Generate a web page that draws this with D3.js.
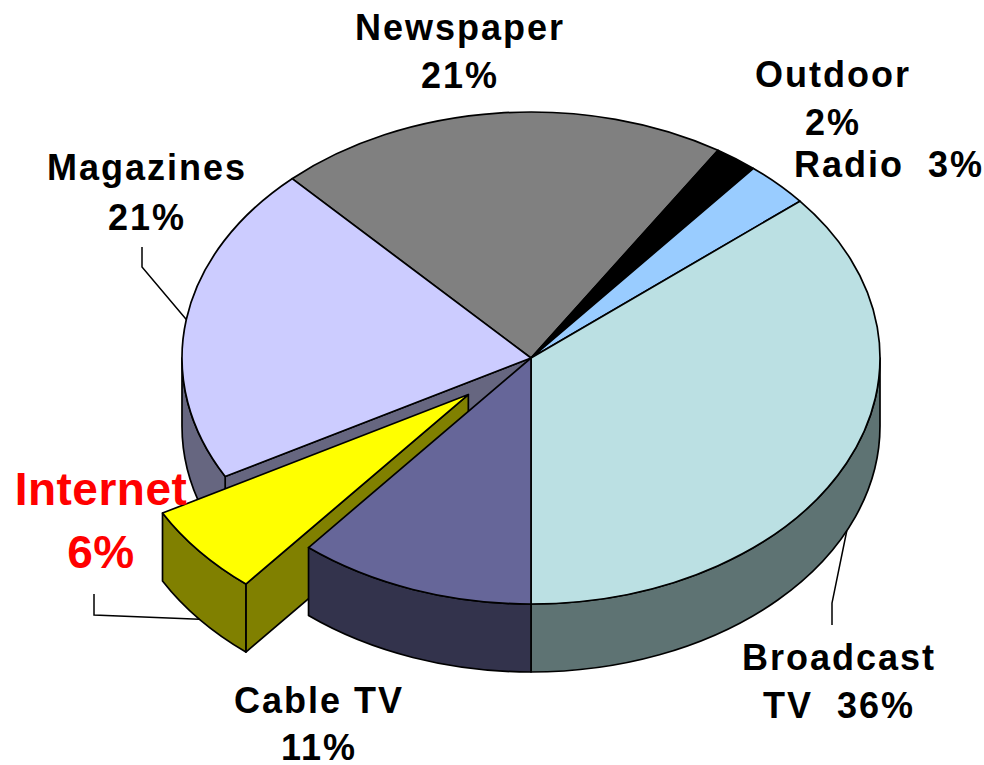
<!DOCTYPE html>
<meta charset="utf-8">
<head>
    <title>Advertising spend 3D pie</title>
    <script src="https://d3js.org/d3.v7.min.js"></script>
</head>

<style>
body { margin: 0; background: #ffffff; }
.label { font-family: "Liberation Sans", Arial, sans-serif; font-weight: bold; }
</style>

<body>

<svg></svg>

<script>

// slice data, clockwise from the first slice
let categories = ["Broadcast TV", "Cable TV", "Internet", "Magazines", "Newspaper", "Outdoor", "Radio"];
let values = [36, 11, 6, 21, 21, 2, 3];
let topColors = ["#BBE0E3", "#666699", "#FFFF00", "#CCCCFF", "#808080", "#000000", "#99CCFF"];
let sideColors = ["#5E7373", "#33334C", "#808000", "#666680", "#404040", "#000000", "#4D6680"];
let explode = [0, 0, 0.233, 0, 0, 0, 0];
// label text, "#" is replaced by the value
let labelLines = [["Broadcast", "TV  #%"], ["Cable TV", "#%"], ["Internet", "#%"], ["Magazines", "#%"],
                  ["Newspaper", "#%"], ["Outdoor", "#%"], ["Radio  #%"]];

let firstSliceAngle = 50.4;

// geometry
let width = 984, height = 765;
let cx = 531, cy = 358, rx = 349, ry = 246, depth = 68;

// label layout: centre x, first baseline, line height, size, colour
let labelPos = [[839, 670], [319, 713], [101, 505], [147, 180], [460, 40], [833, 87], [889, 177]];
let labelSize = [36, 36, 46, 36, 36, 36, 36];
let labelGap = [48, 47, 63, 50, 48, 48, 48];
let labelColor = ["#000", "#000", "#ff0000", "#000", "#000", "#000", "#000"];
// leader lines: two points near the label, then to the slice (z = 0 top, 1 bottom)
let leaders = [
  {i: 0, pts: [[832, 625], [832, 603]], z: 1},
  {i: 2, pts: [[94, 594], [94, 615]], z: 1},
  {i: 3, pts: [[142, 247], [142, 267]], z: 0}
];

let svg = d3.select("svg")
    .attr("width", width)
    .attr("height", height);

let a0 = firstSliceAngle * Math.PI / 180;
let pie = d3.pie().sort(null).value(d => d).startAngle(a0).endAngle(a0 + 2 * Math.PI);
let arcs = pie(values);

arcs.forEach((d, i) => {
  let m = (d.startAngle + d.endAngle) / 2;
  d.index = i;
  d.mid = m;
  d.dx = explode[i] * rx * Math.sin(m);
  d.dy = -explode[i] * ry * Math.cos(m);
});

function pt(d, t, z) {
  return [cx + d.dx + rx * Math.sin(t), cy + d.dy - ry * Math.cos(t) + z];
}
function centre(d, z) {
  return [cx + d.dx, cy + d.dy + z];
}

function topPath(d) {
  let p0 = pt(d, d.startAngle, 0), p1 = pt(d, d.endAngle, 0), c = centre(d, 0);
  let large = (d.endAngle - d.startAngle) > Math.PI ? 1 : 0;
  return "M" + c + "L" + p0 + "A" + rx + "," + ry + " 0 " + large + " 1 " + p1 + "Z";
}

function wallPaths(d) {
  // outer wall only on the front half of the ellipse
  let out = [];
  [[Math.PI / 2, 3 * Math.PI / 2], [5 * Math.PI / 2, 7 * Math.PI / 2]].forEach(r => {
    let a = Math.max(d.startAngle, r[0]), b = Math.min(d.endAngle, r[1]);
    if (b - a < 1e-6) return;
    let large = (b - a) > Math.PI ? 1 : 0;
    out.push("M" + pt(d, a, 0) + "A" + rx + "," + ry + " 0 " + large + " 1 " + pt(d, b, 0) +
             "L" + pt(d, b, depth) + "A" + rx + "," + ry + " 0 " + large + " 0 " + pt(d, a, depth) + "Z");
  });
  return out;
}

function facePath(d, t) {
  return "M" + centre(d, 0) + "L" + pt(d, t, 0) + "L" + pt(d, t, depth) + "L" + centre(d, depth) + "Z";
}

// radial faces show only where a slice next to them is pulled out
function openFaces(d, i) {
  let n = arcs.length, out = [];
  let prev = (i + n - 1) % n, next = (i + 1) % n;
  let open = explode[i] > 0;
  if ((open || explode[prev] > 0) && Math.sin(d.startAngle) < 0) out.push(facePath(d, d.startAngle));
  if ((open || explode[next] > 0) && Math.sin(d.endAngle) > 0) out.push(facePath(d, d.endAngle));
  return out;
}

// paint from back to front
let order = arcs.slice().sort((a, b) => Math.cos(b.mid) - Math.cos(a.mid));

let slices = svg.append("g")
    .attr("stroke", "#000")
    .attr("stroke-width", 1.7)
    .attr("stroke-linejoin", "round");

order.forEach(d => {
  let g = slices.append("g");
  openFaces(d, d.index).forEach(p => {
    g.append("path").attr("d", p).attr("fill", sideColors[d.index]);
  });
  wallPaths(d).forEach(p => {
    g.append("path").attr("d", p).attr("fill", sideColors[d.index]);
  });
  g.append("path").attr("d", topPath(d)).attr("fill", topColors[d.index]);
});

// leader lines
leaders.forEach(l => {
  let d = arcs[l.i];
  let end = pt(d, d.mid, l.z * depth);
  svg.append("path")
    .attr("d", d3.line()(l.pts.concat([end])))
    .attr("fill", "none")
    .attr("stroke", "#000")
    .attr("stroke-width", 1.5);
});

// labels
categories.forEach((c, i) => {
  let t = svg.append("text")
    .attr("class", "label")
    .attr("text-anchor", "middle")
    .attr("font-size", labelSize[i])
    .attr("letter-spacing", i == 2 ? 0.5 : 2)
    .attr("fill", labelColor[i]);
  labelLines[i].forEach((s, k) => {
    t.append("tspan")
      .attr("x", labelPos[i][0])
      .attr("y", labelPos[i][1] + k * labelGap[i])
      .style("white-space", "pre")
      .text(s.replace("#", values[i]));
  });
});

</script>

</body>
